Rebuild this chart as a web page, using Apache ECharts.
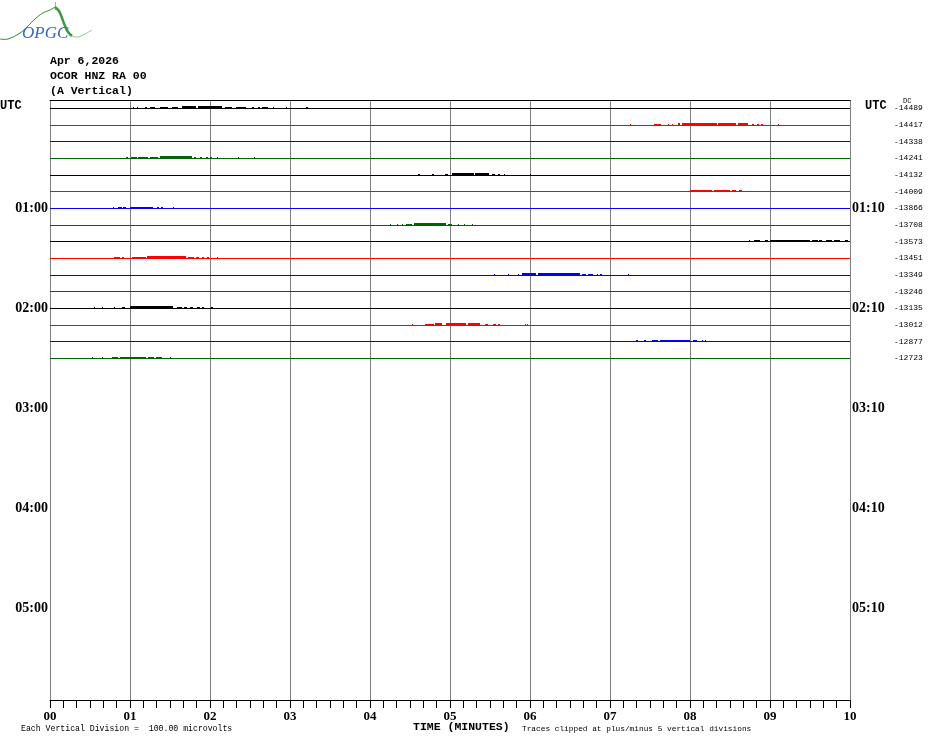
<!DOCTYPE html>
<html>
<head>
<meta charset="utf-8">
<script src="https://cdn.jsdelivr.net/npm/echarts@6/dist/echarts.min.js"></script>
<style>
html,body{margin:0;padding:0;background:#fff;}
#c{width:930px;height:744px;}
</style>
</head>
<body>
<div id="c"></div>
<script>
// ---- data ----
const titleLines = ['Apr 6,2026', 'OCOR HNZ RA 00', '(A Vertical)'];
const minuteLabels = ['00','01','02','03','04','05','06','07','08','09','10'];
const leftHourLabels = ['UTC','01:00','02:00','03:00','04:00','05:00'];
const rightHourLabels = ['UTC','01:10','02:10','03:10','04:10','05:10'];
const traceDC = [-14489,-14417,-14338,-14241,-14132,-14009,-13866,-13708,-13573,-13451,-13349,-13246,-13135,-13012,-12877,-12723];
const footLeft = 'Each Vertical Division =  100.00 microvolts';
const footMid = 'TIME (MINUTES)';
const footRight = 'Traces clipped at plus/minus 5 vertical divisions';

// activity on each 10-minute trace: [startMinute, endMinute, microvolts]
const trace00 = [[1.04,1.05,6],[1.09,1.10,6],[1.19,1.21,6],[1.25,1.31,6],[1.38,1.48,7],[1.53,1.60,7],[1.65,1.83,9],[1.85,2.15,9],[2.19,2.28,7],[2.33,2.46,7],[2.53,2.55,6],[2.60,2.62,6],[2.65,2.73,6],[2.79,2.80,6],[2.96,2.97,6],[3.20,3.22,6]];
const trace01 = [[7.26,7.27,6],[7.56,7.65,6],[7.73,7.74,6],[7.78,7.79,6],[7.85,7.88,7],[7.90,8.34,9],[8.35,8.40,7],[8.41,8.58,9],[8.60,8.73,7],[8.78,8.80,6],[8.84,8.86,6],[8.89,8.91,6],[9.10,9.11,6]];
const trace02 = [];
const trace03 = [[0.96,0.98,6],[1.02,1.09,6],[1.10,1.22,7],[1.25,1.35,7],[1.38,1.78,9],[1.81,1.84,6],[1.88,1.91,6],[1.96,1.98,6],[2.01,2.03,6],[2.09,2.10,6],[2.36,2.37,6],[2.56,2.57,6]];
const trace04 = [[4.61,4.63,6],[4.78,4.80,6],[4.94,4.98,6],[5.03,5.30,9],[5.32,5.50,9],[5.53,5.57,6],[5.60,5.63,6],[5.68,5.69,6],[6.01,6.02,6]];
const trace05 = [[8.00,8.02,6],[8.03,8.28,7],[8.30,8.50,7],[8.53,8.58,6],[8.62,8.66,6]];
const trace06 = [[0.79,0.80,6],[0.85,0.90,6],[0.92,0.96,6],[1.00,1.29,7],[1.34,1.36,6],[1.39,1.41,6],[1.54,1.55,6]];
const trace07 = [[4.25,4.26,6],[4.34,4.35,6],[4.41,4.42,6],[4.46,4.53,6],[4.56,4.96,7],[4.98,5.03,6],[5.11,5.12,6],[5.18,5.19,6],[5.28,5.29,6]];
const trace08 = [[8.74,8.75,6],[8.81,8.88,6],[8.94,8.98,6],[9.00,9.50,7],[9.53,9.60,6],[9.62,9.66,6],[9.71,9.78,6],[9.81,9.88,6],[9.94,9.98,6]];
const trace09 = [[0.81,0.88,6],[0.91,0.94,6],[1.03,1.20,7],[1.22,1.71,9],[1.73,1.80,6],[1.83,1.87,6],[1.90,1.92,6],[1.97,2.00,6],[2.09,2.10,6]];
const trace10 = [[5.55,5.56,6],[5.73,5.74,6],[5.85,5.86,6],[5.91,6.09,7],[6.10,6.63,7],[6.65,6.70,6],[6.73,6.79,6],[6.84,6.85,6],[6.88,6.91,6],[7.23,7.24,6]];
const trace11 = [];
const trace12 = [[0.55,0.56,6],[0.65,0.66,6],[0.81,0.82,6],[0.90,0.94,6],[1.00,1.54,9],[1.59,1.65,6],[1.68,1.72,6],[1.76,1.80,6],[1.84,1.88,6],[1.91,1.93,6],[2.02,2.04,6]];
const trace13 = [[4.53,4.54,6],[4.69,4.80,6],[4.82,4.91,7],[4.96,5.21,9],[5.23,5.38,7],[5.44,5.48,6],[5.54,5.58,6],[5.61,5.63,6],[5.94,5.95,6],[5.97,5.98,6]];
const trace14 = [[7.33,7.36,6],[7.43,7.46,6],[7.53,7.60,6],[7.63,8.00,7],[8.04,8.09,6],[8.15,8.16,6],[8.19,8.20,6]];
const trace15 = [[0.53,0.54,6],[0.65,0.66,6],[0.78,0.85,6],[0.88,1.21,7],[1.23,1.30,6],[1.33,1.41,6],[1.51,1.52,6]];

const traces = [trace00,trace01,trace02,trace03,trace04,trace05,trace06,trace07,trace08,trace09,trace10,trace11,trace12,trace13,trace14,trace15];
const uvPerDivision = 100;

// ---- chart ----
const colors = ['#000000','#ff0000','#0000ff','#006400'];
const chart = echarts.init(document.getElementById('c'), null, {renderer:'canvas', width:930, height:744});

function makeRender(color){
  return function(params, api){
    const s = api.value(0), e = api.value(1), uv = api.value(2), row = api.value(3);
    const p1 = api.coord([s, row]);
    const p2 = api.coord([e, row]);
    const yb = Math.round(p1[1] - 0.5);
    if (uv === 0) {
      return {type:'line', shape:{x1:p1[0], y1:yb+0.5, x2:p2[0], y2:yb+0.5}, style:{stroke:color, lineWidth:1}};
    }
    const topY = Math.round(api.coord([s, row - uv/uvPerDivision])[1] - 0.5);
    const x0 = Math.floor(p1[0]);
    return {type:'rect', shape:{x:x0, y:topY, width:Math.max(1, Math.round(p2[0]-p1[0])), height:yb+1-topY}, style:{fill:color}};
  };
}

const series = traces.map((tr, i) => {
  const data = [[0, 10, 0, i]].concat(tr.map(d => [d[0], d[1], d[2], i]));
  return {
    type:'custom', coordinateSystem:'cartesian2d', xAxisIndex:0, yAxisIndex:0,
    encode:{x:[0,1], y:3}, silent:true, animation:false, clip:false,
    renderItem: makeRender(colors[i % 4]), data: data, z: 5
  };
});

const yBase = {
  type:'value', min:-0.5, max:35.5, interval:0.5, inverse:true,
  axisLine:{show:false, onZero:false}, axisTick:{show:false}, splitLine:{show:false}
};
const isHour = v => Math.abs(v - Math.round(v)) < 1e-6 && Math.round(v) % 6 === 0 && Math.round(v) > 0;

const option = {
  backgroundColor:'#ffffff',
  animation:false,
  grid:{left:50, top:100, width:800, height:600, containLabel:false},
  xAxis:[
    {type:'value', min:0, max:10, interval:1, position:'bottom',
     axisLine:{show:true, onZero:false, lineStyle:{color:'#000', width:1}},
     axisTick:{show:true, length:8, lineStyle:{color:'#000'}},
     minorTick:{show:true, splitNumber:6, length:8, lineStyle:{color:'#000'}},
     splitLine:{show:true, lineStyle:{color:'#808080', width:1}},
     axisLabel:{margin:10, formatter: v => minuteLabels[Math.round(v)], fontFamily:'Liberation Serif', fontWeight:'bold', fontSize:13, color:'#000'}},
    {type:'value', min:0, max:10, interval:1, position:'top',
     axisLine:{show:true, onZero:false, lineStyle:{color:'#000', width:1}},
     axisTick:{show:false}, minorTick:{show:false}, axisLabel:{show:false}, splitLine:{show:false}}
  ],
  yAxis:[
    Object.assign({}, yBase, {position:'left',
      axisLabel:{margin:2, formatter: v => isHour(v) ? leftHourLabels[Math.round(v)/6] : '', fontFamily:'Liberation Serif', fontWeight:'bold', fontSize:14, color:'#000'}}),
    Object.assign({}, yBase, {position:'right',
      axisLabel:{margin:2, formatter: v => isHour(v) ? rightHourLabels[Math.round(v)/6] : '', fontFamily:'Liberation Serif', fontWeight:'bold', fontSize:14, color:'#000'}}),
    Object.assign({}, yBase, {position:'right', offset:42,
      axisLabel:{margin:2, formatter: v => {
        const r = Math.round(v);
        return (Math.abs(v - r) < 1e-6 && r >= 0 && r < traceDC.length) ? String(traceDC[r]) : '';
      }, fontFamily:'Liberation Mono', fontSize:8, color:'#000'}})
  ],
  graphic:[
    // logo
    {type:'polyline', shape:{points:[[0,39],[8,39],[20,33],[28,26],[35,19],[43,13],[50,10],[55,7]], smooth:0.4}, style:{stroke:'#2e8b2e', lineWidth:1, fill:null}},
    {type:'line', shape:{x1:55.5, y1:2, x2:55.5, y2:10}, style:{stroke:'#88c088', lineWidth:1}},
    {type:'polyline', shape:{points:[[55,7],[59,11],[62,18],[65,26],[68,32],[72,36]], smooth:0.4}, style:{stroke:'#3a9a3a', lineWidth:2.5, fill:null}},
    {type:'polyline', shape:{points:[[72,36],[78,37],[85,34],[92,30]], smooth:0.4}, style:{stroke:'#8cc88c', lineWidth:1, fill:null}},
    {type:'text', left:22, top:25, style:{text:'OPGC', fontFamily:'Liberation Serif', fontStyle:'italic', fontSize:17, fill:'#3366cc'}},
    // header
    {type:'text', left:50, top:55, style:{text:titleLines[0], fontFamily:'Liberation Mono', fontWeight:'bold', fontSize:11.5, fill:'#000'}},
    {type:'text', left:50, top:70, style:{text:titleLines[1], fontFamily:'Liberation Mono', fontWeight:'bold', fontSize:11.5, fill:'#000'}},
    {type:'text', left:50, top:85, style:{text:titleLines[2], fontFamily:'Liberation Mono', fontWeight:'bold', fontSize:11.5, fill:'#000'}},
    // UTC labels
    {type:'text', left:0, top:100, style:{text:leftHourLabels[0], fontFamily:'Liberation Mono', fontWeight:'bold', fontSize:12, fill:'#000'}},
    {type:'text', left:865, top:100, style:{text:rightHourLabels[0], fontFamily:'Liberation Mono', fontWeight:'bold', fontSize:12, fill:'#000'}},
    {type:'text', left:903, top:98, style:{text:'DC', fontFamily:'Liberation Mono', fontSize:7, fill:'#000'}},
    // footer
    {type:'text', left:413, top:721, style:{text:footMid, fontFamily:'Liberation Mono', fontWeight:'bold', fontSize:11.5, fill:'#000'}},
    {type:'text', left:21, top:725, style:{text:footLeft, fontFamily:'Liberation Mono', fontSize:8.2, fill:'#000'}},
    {type:'text', left:522, top:725, style:{text:footRight, fontFamily:'Liberation Mono', fontSize:7.8, fill:'#000'}}
  ],
  series: series
};
chart.setOption(option);
</script>
</body>
</html>
